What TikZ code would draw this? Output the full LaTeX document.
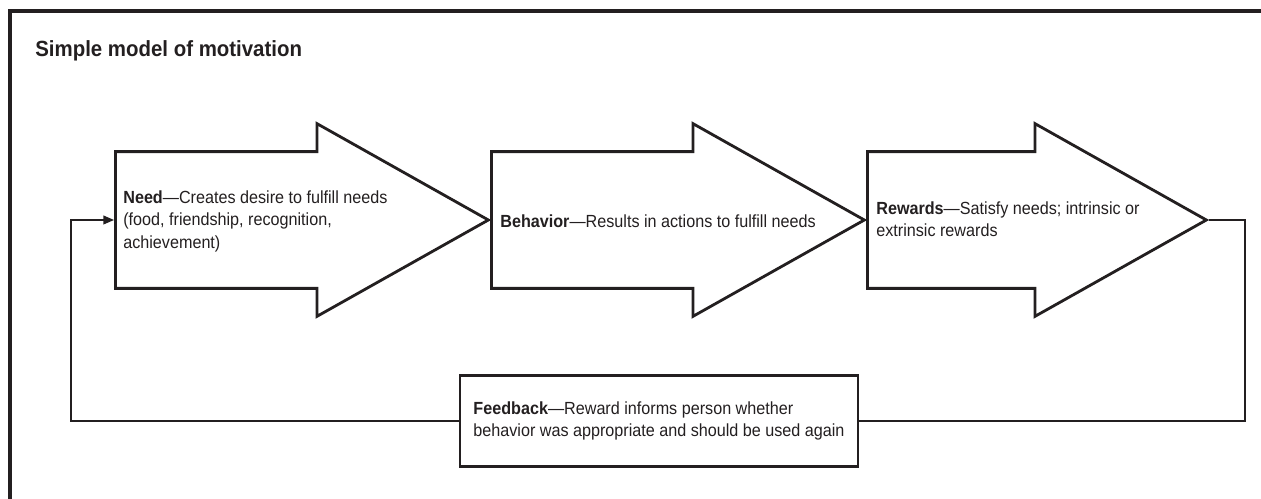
\documentclass[tikz,border=0pt]{standalone}
\usepackage{fontspec}
\usepackage{tikz}
\usetikzlibrary{shapes,arrows,arrows.meta,positioning,calc}
\newfontfamily\condfont{Liberation Sans}[FakeStretch=0.92]
\newfontfamily\headfont{Liberation Sans}[FakeStretch=0.93]
\definecolor{inkgray}{RGB}{35,31,32}

\begin{document}
\begin{tikzpicture}[x=0.02cm, y=-0.02cm,
    flow/.style={single arrow, draw=inkgray, line width=1.6pt,
        inner xsep=0pt, inner ysep=1.34cm, single arrow head extend=0.56cm,
        single arrow tip angle=58.7, anchor=tail},
    caption/.style={anchor=west, inner sep=0pt, align=left, text=inkgray,
        font=\condfont\fontsize{10}{12.8}\selectfont},
    loop/.style={draw=inkgray, line width=0.7pt}]
    \useasboundingbox (0,0) rectangle (1261,499);
    \draw[inkgray, line width=2.2pt] (10,499) -- (10,11) -- (1261,11);
    \node[anchor=base west, inner sep=0pt, text=inkgray, font=\headfont\fontsize{12.5}{14}\selectfont\bfseries] (title) at (35,57) {Simple model of motivation};
    % the three stages
    \node[flow, minimum height=7.46cm] (need) at (114,220) {};
    \node[flow, minimum height=7.46cm] (behavior) at (490,220) {};
    \node[flow, minimum height=6.78cm] (rewards) at (866,220) {};
    \node[caption] (needtext) at ($(need.tail)+(9,1)$) {\textbf{Need}—Creates desire to fulfill needs\\(food, friendship, recognition,\\achievement)};
    \node[caption] (behaviortext) at ($(behavior.tail)+(10,1)$) {\textbf{Behavior}—Results in actions to fulfill needs};
    \node[caption] (rewardstext) at ($(rewards.tail)+(10,-1)$) {\textbf{Rewards}—Satisfy needs; intrinsic or\\extrinsic rewards};
    % feedback loop
    \node[draw=inkgray, line width=1.6pt, minimum width=7.96cm, minimum height=1.82cm, align=left, text=inkgray, font=\condfont\fontsize{10}{12.8}\selectfont] (feedback) at (659,421) {\textbf{Feedback}—Reward informs person whether\\behavior was appropriate and should be used again};
    \coordinate (loopleft) at (71,421);
    \coordinate (loopright) at (1245,220);
    \draw[loop, -{Triangle[length=6pt,width=5pt]}] (feedback.west) -- (loopleft) |- (need.tail);
    \draw[loop] (rewards.tip) -- (loopright) |- (feedback.east);
\end{tikzpicture}
\end{document}
